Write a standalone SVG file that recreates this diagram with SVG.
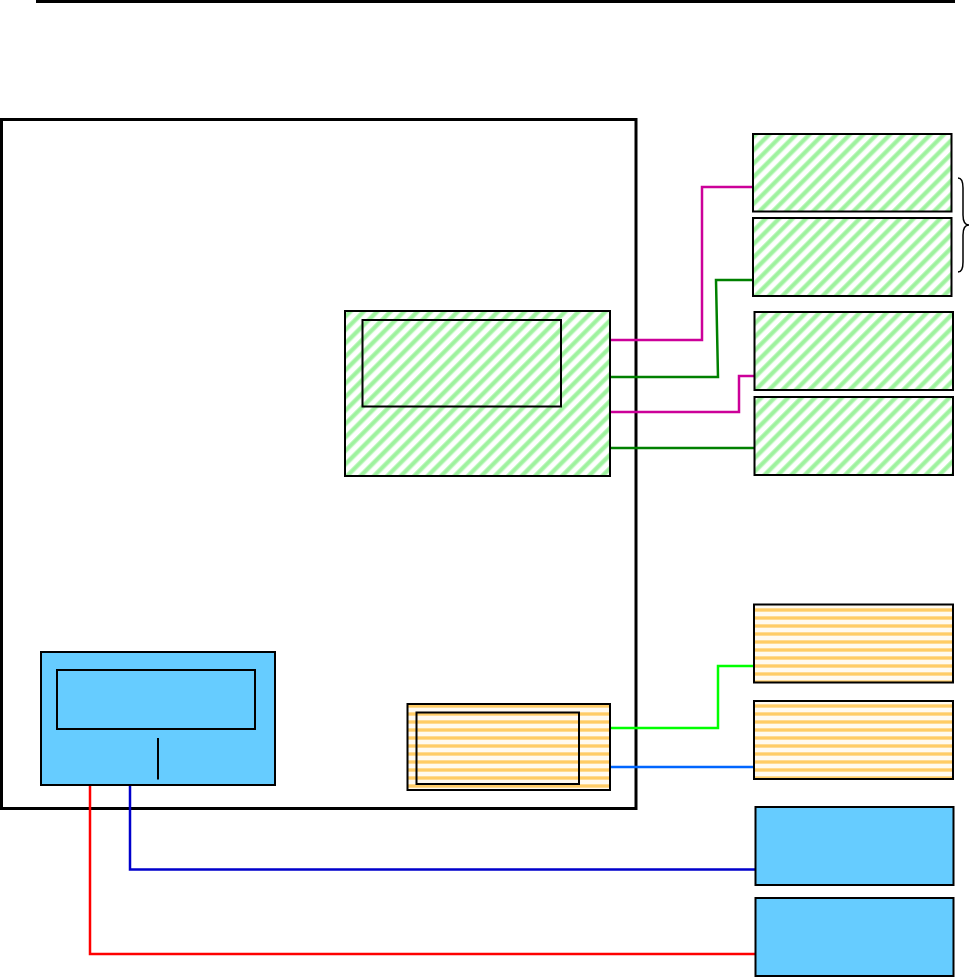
<svg xmlns="http://www.w3.org/2000/svg" width="972" height="977" viewBox="0 0 972 977">
  <defs>
    <pattern id="hatchGreen" patternUnits="userSpaceOnUse" width="9.5" height="9.5" patternTransform="rotate(45)">
      <rect x="0" y="0" width="9.5" height="9.5" fill="#ffffff"/>
      <rect x="0" y="0" width="5" height="9.5" fill="#c4f8c4"/>
      <rect x="0.9" y="0" width="3.2" height="9.5" fill="#9ef29e"/>
    </pattern>
    <pattern id="stripeOrange" patternUnits="userSpaceOnUse" width="8" height="8">
      <rect x="0" y="0" width="8" height="8" fill="#fffaf0"/>
      <rect x="0" y="0" width="8" height="4" fill="#ffe2a6"/>
      <rect x="0" y="0.7" width="8" height="2.6" fill="#ffcc66"/>
    </pattern>
  </defs>
  <style>
    .frame { fill: none; stroke: #000; stroke-width: 3; }
    .box { stroke: #000; stroke-width: 2; }
    .inner { fill: none; stroke: #000; stroke-width: 2; }
    .green { fill: url(#hatchGreen); }
    .orange { fill: url(#stripeOrange); }
    .blue { fill: #66ccff; }
    .wire { fill: none; stroke-width: 2.5; }
  </style>

  <line x1="36" y1="1.5" x2="955" y2="1.5" stroke="#000" stroke-width="3"/>

  <g id="outer-frame">
    <rect class="frame" x="1.5" y="119.5" width="634.5" height="689"/>
  </g>

  <g id="connectors">
    <polyline class="wire" stroke="#cc0099" points="610,340 702,340 702,187 753,187"/>
    <polyline class="wire" stroke="#008000" points="610,377 718,377 716,280 753,280"/>
    <polyline class="wire" stroke="#cc0099" points="610,412 739,412 739,376 754,376"/>
    <polyline class="wire" stroke="#008000" points="610,448 754,448"/>
    <polyline class="wire" stroke="#00ff00" points="610,728 718,728 718,666 754,666"/>
    <polyline class="wire" stroke="#0066ff" points="610,767 754,767"/>
    <polyline class="wire" stroke="#0000cc" stroke-width="2" points="130,785 130,869.5 755,869.5"/>
    <polyline class="wire" stroke="#ff0000" stroke-width="3.2" points="90,785 90,954 755,954"/>
  </g>

  <g id="green-main">
    <rect class="box green" x="345" y="311" width="265" height="165"/>
    <rect class="inner" x="362.5" y="320" width="198.5" height="86.5"/>
  </g>

  <g id="green-1">
    <rect class="box green" x="753" y="134" width="198.5" height="77.5"/>
  </g>
  <g id="green-2">
    <rect class="box green" x="753" y="218" width="198.5" height="78"/>
  </g>
  <g id="green-3">
    <rect class="box green" x="754.5" y="312" width="198.5" height="78"/>
  </g>
  <g id="green-4">
    <rect class="box green" x="754.5" y="397" width="198.5" height="78"/>
  </g>

  <g id="brace">
    <path d="M958,178 Q963,178 963,188 L963,215 Q963,225 969,225 Q963,225 963,235 L963,262 Q963,272 958,272" fill="none" stroke="#000" stroke-width="1.5"/>
  </g>

  <g id="orange-main">
    <rect class="box orange" x="407.5" y="704" width="202.5" height="86"/>
    <rect class="inner" x="416.5" y="712.5" width="162.5" height="71.5"/>
  </g>
  <g id="orange-1">
    <rect class="box orange" x="754" y="604.5" width="199" height="78"/>
  </g>
  <g id="orange-2">
    <rect class="box orange" x="754" y="701" width="199" height="78"/>
  </g>

  <g id="blue-main">
    <rect class="box blue" x="41" y="652" width="234" height="133"/>
    <rect class="inner" x="57" y="670" width="198" height="59"/>
    <line x1="158" y1="738" x2="158" y2="779.5" stroke="#000" stroke-width="2"/>
  </g>
  <g id="blue-1">
    <rect class="box blue" x="755.5" y="807" width="198" height="78"/>
  </g>
  <g id="blue-2">
    <rect class="box blue" x="755.5" y="898" width="198" height="78"/>
  </g>
</svg>
